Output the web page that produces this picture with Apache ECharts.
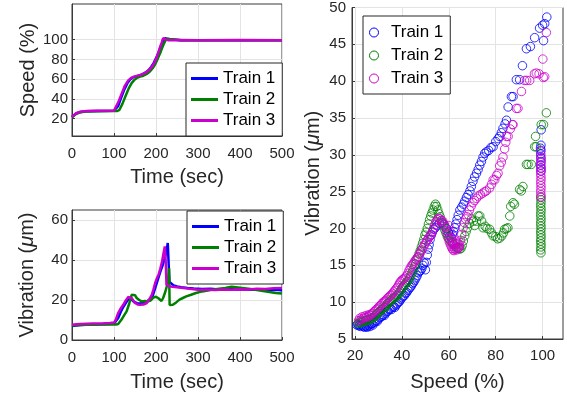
<!DOCTYPE html>
<html>
<head>
<meta charset="utf-8">
<script src="https://cdn.jsdelivr.net/npm/echarts@6/dist/echarts.min.js"></script>
<style>
  html, body { margin: 0; padding: 0; background: #fff; }
  #chart { width: 567px; height: 401px; }
</style>
</head>
<body>
<div id="chart"></div>
<script>
const trainNames = ["Train 1", "Train 2", "Train 3"];
const trainColors = ["#0000ff", "#008000", "#cc00cc"];

// speed (%) vs time (sec)
const speedTime1 = [0, 4, 10, 20, 35, 60, 100, 104, 110, 116, 124, 132, 138, 144, 150, 158, 166, 174, 182, 188, 194, 200, 206, 210, 214, 218, 222, 225, 228, 232, 260, 300, 400, 500];
const speedVal1 = [21.8, 23.8, 25.3, 26.8, 27.6, 27.9, 28, 28.5, 33, 40, 49, 56, 59.5, 61.5, 62.5, 63.5, 64.5, 66.3, 69, 72, 76, 81, 87, 91.5, 95.5, 99, 101.5, 102, 100.5, 99.4, 99.3, 99.4, 99.3, 99.4];
const speedTime2 = [0, 4, 10, 20, 35, 60, 100, 108, 113, 120, 128, 136, 142, 148, 155, 162, 170, 178, 186, 192, 198, 204, 210, 214, 218, 222, 226, 229, 232, 236, 260, 300, 400, 500];
const speedVal2 = [21.5, 23.5, 25, 26.5, 27.3, 27.6, 27.7, 27.8, 29, 35, 43.5, 51.5, 56, 59, 61.3, 62.5, 63.5, 65.3, 68, 71, 75, 80.5, 86.5, 91, 95, 98.5, 101, 102, 100.5, 99.4, 99.3, 99.4, 99.3, 99.4];
const speedTime3 = [0, 4, 10, 20, 35, 60, 100, 103, 110, 118, 126, 134, 140, 146, 154, 162, 170, 178, 184, 190, 196, 201, 205, 209, 213, 217, 220, 224, 230, 260, 300, 400, 500];
const speedVal3 = [22, 24, 25.5, 27, 27.8, 28, 28.2, 29, 36.5, 45, 53.5, 58.8, 61, 62.3, 63.3, 64, 65.5, 67.4, 69.5, 72.4, 76.5, 81.4, 86, 91.6, 96.5, 101.5, 101.8, 100, 99.4, 99.5, 99.4, 99.5, 99.4];

// vibration (um) vs time (sec)
const vibTime1 = [0, 10, 20, 30, 45, 60, 75, 90, 100, 104, 110, 116, 122, 128, 134, 138, 142, 148, 155, 162, 170, 178, 186, 192, 198, 204, 210, 216, 221, 225, 228, 229, 232, 236, 242, 250, 260, 275, 290, 310, 330, 350, 370, 390, 410, 430, 450, 470, 490, 500];
const vibVal1 = [7.0, 7.3, 7.5, 7.6, 7.7, 7.8, 7.9, 8.0, 8.2, 8.6, 11, 14, 16.5, 18.5, 20.3, 20.8, 20.2, 19, 18.4, 18.2, 18.5, 19.2, 20.5, 22, 26, 30, 34, 37.5, 41, 44, 48.5, 49.2, 29, 28, 27.3, 26.8, 26.4, 26, 25.7, 25.5, 25.6, 25.3, 25.5, 25.2, 25.4, 25.1, 25.3, 24.9, 25.1, 24.8];
const vibTime2 = [0, 10, 20, 35, 50, 70, 90, 105, 110, 114, 118, 124, 130, 136, 142, 146, 150, 154, 160, 166, 174, 181, 186, 190, 194, 197, 200, 205, 209, 213, 217, 222, 226, 229, 231, 232.5, 235, 240, 248, 256, 264, 272, 282, 295, 310, 330, 350, 365, 380, 395, 410, 425, 440, 455, 470, 485, 500];
const vibVal2 = [7.2, 7.4, 7.5, 7.6, 7.6, 7.7, 7.7, 7.8, 8.0, 8.6, 10.2, 12.3, 14.3, 18, 22.6, 23.5, 22.4, 21, 20, 19.3, 19.5, 19.3, 19.6, 20.2, 21.2, 21.8, 21.6, 21, 20.2, 19.5, 21, 24, 27, 31, 36, 17.5, 16.8, 17.6, 18.8, 20.2, 21, 21.8, 22.5, 23.5, 24.3, 25, 25.6, 26, 26.6, 26.3, 25.9, 25.5, 25, 24.5, 24, 23.5, 23.2];
const vibTime3 = [0, 10, 20, 35, 50, 70, 90, 100, 104, 110, 116, 122, 128, 134, 138, 142, 146, 150, 156, 162, 170, 178, 184, 190, 194, 198, 202, 206, 210, 214, 218, 221, 223, 225, 230, 235, 245, 255, 265, 280, 300, 320, 340, 360, 380, 400, 420, 440, 460, 480, 500];
const vibVal3 = [7.6, 7.9, 8.0, 8.1, 8.2, 8.3, 8.5, 8.7, 10, 13.5, 15.8, 17.6, 19.8, 21.5, 21.7, 21, 19.8, 18.5, 17.8, 17.6, 17.7, 18.5, 20.3, 22.6, 25.3, 28.5, 30.8, 32.6, 35.5, 38.8, 43.5, 46.8, 40, 27.6, 27, 26.8, 26.5, 26.2, 26, 25.6, 25.1, 25.3, 25.0, 25.2, 25.1, 25.4, 25.3, 25.6, 25.5, 25.9, 26.0];

// vibration (um) vs speed (%) : [speed, vibration]
const scatter1 = [[20.8,6.9],[21.2,7.0],[21.6,6.8],[22.0,6.9],[22.4,6.7],[22.8,6.9],[23.2,6.8],[23.6,6.7],[24.0,6.6],[24.4,6.8],[24.8,6.7],[25.2,6.6],[25.6,6.8],[26.0,6.9],[26.4,6.7],[26.8,7.0],[27.2,7.1],[27.6,6.9],[28.0,7.2],[28.5,7.3],[29.0,7.5],[29.5,7.4],[30.0,7.7],[30.5,7.9],[31.0,8.0],[31.5,8.1],[32.0,8.3],[32.5,8.2],[33.0,8.5],[33.5,8.7],[34.0,8.8],[34.5,9.0],[35.0,9.1],[35.5,9.0],[36.0,9.3],[36.5,9.4],[37.0,9.3],[37.5,9.6],[38.0,9.8],[38.5,10.0],[39.0,10.1],[39.5,10.4],[40.0,10.6],[40.5,10.8],[41.0,10.9],[41.5,11.2],[42.0,11.3],[42.5,11.6],[43.0,11.8],[43.5,12.0],[44.0,12.2],[44.5,12.5],[45.0,12.7],[45.5,13.0],[46.0,13.3],[46.5,13.6],[47.0,14.0],[47.5,14.2],[48.0,14.3],[48.5,14.6],[49.0,15.0],[49.5,15.3],[50.0,14.4],[50.4,15.4],[50.8,16.4],[51.2,17.2],[51.6,17.8],[52.0,18.5],[52.5,19.1],[53.0,19.5],[53.6,19.9],[54.2,20.1],[55.0,20.4],[56.0,20.7],[57.0,20.8],[58.0,20.5],[59.0,20.0],[59.8,19.5],[60.4,19.0],[61.0,18.8],[61.5,19.2],[62.0,19.6],[62.5,20.1],[63.0,20.6],[63.5,21.2],[64.0,21.8],[64.7,22.5],[65.5,22.9],[66.2,23.3],[66.8,23.7],[67.5,24.2],[68.2,24.6],[69.0,25.1],[69.6,25.7],[70.3,26.4],[71.0,27.0],[71.8,27.5],[72.5,28.0],[73.2,28.6],[73.9,29.1],[74.6,29.7],[75.3,30.2],[76.0,30.4],[77.0,30.6],[78.0,31.0],[78.9,31.1],[80.0,31.8],[81.0,32.2],[81.7,32.5],[82.4,33.0],[83.1,33.6],[84.0,34.2],[84.6,34.7],[85.3,36.5],[86.7,37.9],[87.4,37.9],[88.8,40.2],[90.2,40.2],[91.4,42.1],[93.1,44.4],[94.8,44.7],[96.6,45.9],[98.7,47.2],[100.0,47.6],[100.9,47.8],[101.8,48.7],[100.4,45.5],[99.4,33.4],[99.1,30.9],[99.3,31.3],[99.3,30.6],[99.2,30.1],[99.3,29.6],[99.3,29.1],[99.2,28.6],[99.3,28.2],[99.3,27.8]];
const scatter2 = [[21.3,7.1],[21.8,7.3],[22.3,7.2],[22.8,7.4],[23.3,7.3],[23.8,7.5],[24.3,7.4],[24.8,7.6],[25.3,7.5],[25.8,7.7],[26.3,7.6],[26.8,7.8],[27.3,7.8],[27.8,7.9],[28.3,8.1],[28.8,8.2],[29.3,8.4],[29.8,8.5],[30.3,8.7],[30.8,8.8],[31.3,9.0],[31.8,9.1],[32.3,9.3],[32.8,9.3],[33.3,9.5],[33.8,9.8],[34.3,9.9],[34.8,10.1],[35.3,10.2],[35.8,10.4],[36.3,10.5],[36.8,10.6],[37.3,10.7],[37.8,10.9],[38.3,11.0],[38.8,11.3],[39.3,11.5],[39.8,11.8],[40.3,12.0],[40.8,12.2],[41.3,12.4],[41.8,12.6],[42.3,12.8],[42.8,13.0],[43.3,13.3],[43.8,13.6],[44.3,14.0],[44.8,14.4],[45.3,14.8],[45.8,15.2],[46.3,15.7],[46.8,16.1],[47.3,16.6],[47.8,17.0],[48.3,17.5],[48.8,18.0],[49.3,18.5],[49.8,19.1],[50.3,19.5],[50.8,20.0],[51.3,20.6],[51.8,21.2],[52.3,21.7],[52.8,22.1],[53.3,22.5],[53.8,23.0],[54.3,23.3],[54.8,23.0],[55.3,22.5],[55.8,22.0],[56.3,21.6],[56.8,21.1],[57.3,20.7],[57.8,20.3],[58.3,19.8],[58.8,19.4],[59.3,19.0],[59.8,18.7],[60.4,18.4],[61.0,18.2],[61.6,18.0],[62.2,17.8],[62.8,17.6],[63.4,17.4],[64.0,17.3],[64.6,17.2],[65.2,17.3],[65.7,17.7],[66.2,18.3],[66.8,19.0],[67.4,19.6],[68.0,20.1],[68.8,20.7],[69.7,21.3],[70.5,21.0],[71.0,20.4],[71.8,21.0],[72.5,21.7],[73.2,21.7],[74.0,21.0],[74.6,20.1],[75.5,20.3],[76.3,20.0],[77.4,19.9],[78.2,19.4],[78.9,19.0],[80.0,18.9],[80.8,18.6],[81.7,18.7],[82.6,19.0],[83.3,19.4],[83.8,19.9],[84.6,20.0],[85.2,20.1],[86.0,21.7],[86.4,23.0],[87.4,23.5],[88.0,23.3],[90.2,25.3],[90.9,25.1],[91.6,25.7],[93.1,28.7],[93.8,28.7],[95.2,28.7],[96.6,31.1],[97.3,31.1],[97.0,32.5],[99.4,34.1],[100.4,34.1],[101.6,35.7],[99.3,16.7],[99.2,17.1],[99.3,17.5],[99.3,17.9],[99.2,18.3],[99.3,18.7],[99.3,19.1],[99.2,19.5],[99.3,19.9],[99.3,20.3],[99.2,20.7],[99.3,21.1],[99.3,21.5],[99.2,21.9],[99.3,22.3],[99.3,22.7],[99.2,23.1],[99.3,23.5],[99.3,23.9],[99.2,24.3]];
const scatter3 = [[21.5,7.5],[22.0,7.8],[22.5,7.6],[23.0,8.0],[23.5,7.8],[24.0,8.1],[24.5,7.9],[25.0,8.2],[25.5,8.0],[26.0,8.3],[26.5,8.2],[27.0,8.4],[27.5,8.5],[28.0,8.7],[28.5,8.8],[29.0,9.0],[29.5,9.1],[30.0,9.3],[30.5,9.5],[31.0,9.6],[31.5,9.8],[32.0,10.0],[32.5,10.1],[33.0,10.2],[33.5,10.4],[34.0,10.6],[34.5,10.7],[35.0,10.9],[35.5,11.0],[36.0,11.2],[36.5,11.4],[37.0,11.6],[37.5,11.8],[38.0,12.0],[38.5,12.3],[39.0,12.6],[39.5,12.8],[40.0,13.0],[40.5,13.1],[41.0,13.2],[41.5,13.4],[42.0,13.6],[42.5,13.9],[43.0,14.3],[43.5,14.6],[44.0,14.9],[44.5,15.1],[45.0,15.3],[45.5,15.6],[46.0,15.8],[46.5,16.0],[47.0,16.2],[47.5,16.5],[48.0,16.8],[48.5,17.1],[49.0,17.4],[49.5,17.7],[50.0,18.0],[50.5,18.3],[51.0,18.5],[51.5,18.8],[52.0,19.0],[52.5,19.2],[53.0,19.6],[53.5,20.0],[54.0,20.5],[54.5,20.9],[55.0,21.2],[55.6,21.4],[56.2,21.3],[56.8,21.1],[57.4,21.0],[58.0,20.6],[58.5,20.2],[59.0,19.7],[59.4,19.2],[59.8,18.7],[60.2,18.2],[60.6,17.9],[61.0,17.6],[61.4,17.3],[61.8,17.1],[62.2,17.0],[62.6,17.2],[63.0,17.3],[63.4,17.1],[63.8,17.3],[64.2,17.4],[64.6,17.8],[65.0,18.4],[65.5,19.2],[66.1,20.1],[66.6,20.8],[67.2,21.3],[67.7,21.6],[68.2,21.9],[68.8,22.5],[69.5,23.0],[70.3,23.5],[71.0,23.8],[71.8,24.1],[72.5,24.4],[73.5,24.6],[74.5,24.8],[75.3,25.0],[76.0,25.1],[77.4,25.5],[78.2,26.0],[78.9,26.6],[79.6,26.6],[80.4,27.2],[81.0,27.5],[81.7,28.5],[82.4,29.0],[83.1,29.7],[83.8,30.8],[84.3,31.7],[84.6,32.5],[85.3,32.5],[86.2,33.5],[87.1,34.1],[87.4,34.1],[88.8,36.3],[89.5,36.3],[91.0,38.6],[92.3,40.1],[93.2,40.1],[94.5,40.1],[96.5,41.0],[97.3,41.1],[98.5,41.0],[100.1,43.0],[100.9,40.6],[100.3,40.5],[101.6,46.6],[99.1,30.5],[60.0,20.4],[60.5,19.6],[61.0,18.7],[61.5,18.2],[62.0,17.8],[62.5,18.0],[63.0,18.3],[63.5,18.0],[64.0,18.0],[64.5,17.5],[99.3,24.2],[99.3,24.6],[99.2,25.0],[99.3,25.4],[99.3,25.8],[99.2,26.2],[99.3,26.6],[99.3,27.0],[99.2,27.4],[99.3,27.8],[99.3,28.2],[99.2,28.6],[99.3,29.0],[99.3,29.4],[99.2,29.8]];

// tick labels
const timeTicks = [0, 100, 200, 300, 400, 500];
const speedTicks = [20, 40, 60, 80, 100];
const vibTimeTicks = [0, 20, 40, 60];
const speedPctTicks = [20, 40, 60, 80, 100];
const vibTicks = [5, 10, 15, 20, 25, 30, 35, 40, 45, 50];

const FONT = "'Liberation Sans', Arial, sans-serif";
const AXIS_COLOR = "#3a3a3a";
const GRID_COLOR = "#e3e3e3";
const TEXT_COLOR = "#262626";

function zip(xs, ys) {
  return xs.map((x, i) => [x, ys[i]]);
}

function makeAxis(gridIndex, min, max, ticks, name, gap, labelMargin) {
  return {
    type: "value",
    gridIndex: gridIndex,
    min: min,
    max: max,
    name: name,
    nameLocation: "middle",
    nameGap: gap,
    nameTextStyle: {
      fontFamily: FONT,
      fontSize: 20,
      color: TEXT_COLOR,
      rich: { i: { fontFamily: FONT, fontSize: 20, fontStyle: "italic", color: TEXT_COLOR } },
    },
    axisLine: { show: true, onZero: false, lineStyle: { color: AXIS_COLOR, width: 1 } },
    axisTick: { show: true, inside: true, length: 3, customValues: ticks, lineStyle: { color: AXIS_COLOR } },
    axisLabel: { customValues: ticks, margin: labelMargin, fontFamily: FONT, fontSize: 15, color: TEXT_COLOR },
    splitLine: { show: true, lineStyle: { color: GRID_COLOR, width: 1 } },
  };
}

const xAxes = [
  makeAxis(0, 0, 500, timeTicks, "Time (sec)", 31, 10),
  makeAxis(1, 0, 500, timeTicks, "Time (sec)", 32, 10),
  makeAxis(2, 18.7, 108.7, speedPctTicks, "Speed (%)", 33, 9),
];
const yAxes = [
  makeAxis(0, 2.5, 136, speedTicks, "Speed (%)", 34, 4),
  makeAxis(1, 0, 65, vibTimeTicks, "Vibration ({i|\u03bc}m)", 35, 4),
  makeAxis(2, 5, 50, vibTicks, "Vibration ({i|\u03bc}m)", 29, 6),
];
yAxes.forEach((a) => { a.nameRotate = 90; });

const speedSeries = [zip(speedTime1, speedVal1), zip(speedTime2, speedVal2), zip(speedTime3, speedVal3)];
const vibSeries = [zip(vibTime1, vibVal1), zip(vibTime2, vibVal2), zip(vibTime3, vibVal3)];
const scatterSeries = [scatter1, scatter2, scatter3];

const series = [];
trainNames.forEach((name, k) => {
  series.push({
    name: name, type: "line", xAxisIndex: 0, yAxisIndex: 0,
    data: speedSeries[k], symbol: "none", showSymbol: false,
    lineStyle: { color: trainColors[k], width: 2.5 }, itemStyle: { color: trainColors[k] },
  });
});
trainNames.forEach((name, k) => {
  series.push({
    name: name, type: "line", xAxisIndex: 1, yAxisIndex: 1,
    data: vibSeries[k], symbol: "none", showSymbol: false,
    lineStyle: { color: trainColors[k], width: 2.5 }, itemStyle: { color: trainColors[k] },
  });
});
trainNames.forEach((name, k) => {
  series.push({
    name: name, type: "scatter", xAxisIndex: 2, yAxisIndex: 2,
    data: scatterSeries[k], symbol: "circle", symbolSize: 8.5,
    itemStyle: { color: "rgba(0,0,0,0)", borderColor: trainColors[k], borderWidth: 1 },
  });
});

function makeLegend(left, top, icon, itemWidth, itemHeight, itemGap, padding) {
  return {
    data: trainNames.map((n, k) => ({
      name: n,
      itemStyle: icon === "circle"
        ? { color: "rgba(0,0,0,0)", borderColor: trainColors[k], borderWidth: 1 }
        : { color: trainColors[k], borderWidth: 0 },
    })),
    orient: "vertical",
    left: left,
    top: top,
    icon: icon,
    itemWidth: itemWidth,
    itemHeight: itemHeight,
    itemGap: itemGap,
    padding: padding,
    selectedMode: false,
    backgroundColor: "#fff",
    borderColor: "#262626",
    borderWidth: 1,
    borderRadius: 0,
    textStyle: { fontFamily: FONT, fontSize: 17, color: "#000" },
  };
}

const option = {
  animation: false,
  backgroundColor: "#fff",
  grid: [
    { left: 72, top: 4, width: 210, height: 132, show: true, borderColor: AXIS_COLOR, borderWidth: 1, backgroundColor: "#fff" },
    { left: 72, top: 210, width: 210, height: 130, show: true, borderColor: AXIS_COLOR, borderWidth: 1, backgroundColor: "#fff" },
    { left: 352, top: 5, width: 211, height: 334, show: true, borderColor: AXIS_COLOR, borderWidth: 1, backgroundColor: "#fff" },
  ],
  xAxis: xAxes,
  yAxis: yAxes,
  legend: [
    makeLegend(186, 63, "rect", 27, 3, 4, [7, 7, 7, 5]),
    makeLegend(187, 211, "rect", 27, 3, 4, [7, 7, 7, 5]),
    makeLegend(363, 16, "circle", 24, 9, 6, [8, 7, 7, 6]),
  ],
  series: series,
};

const myChart = echarts.init(document.getElementById("chart"), null, { renderer: "canvas" });
myChart.setOption(option);
</script>
</body>
</html>
